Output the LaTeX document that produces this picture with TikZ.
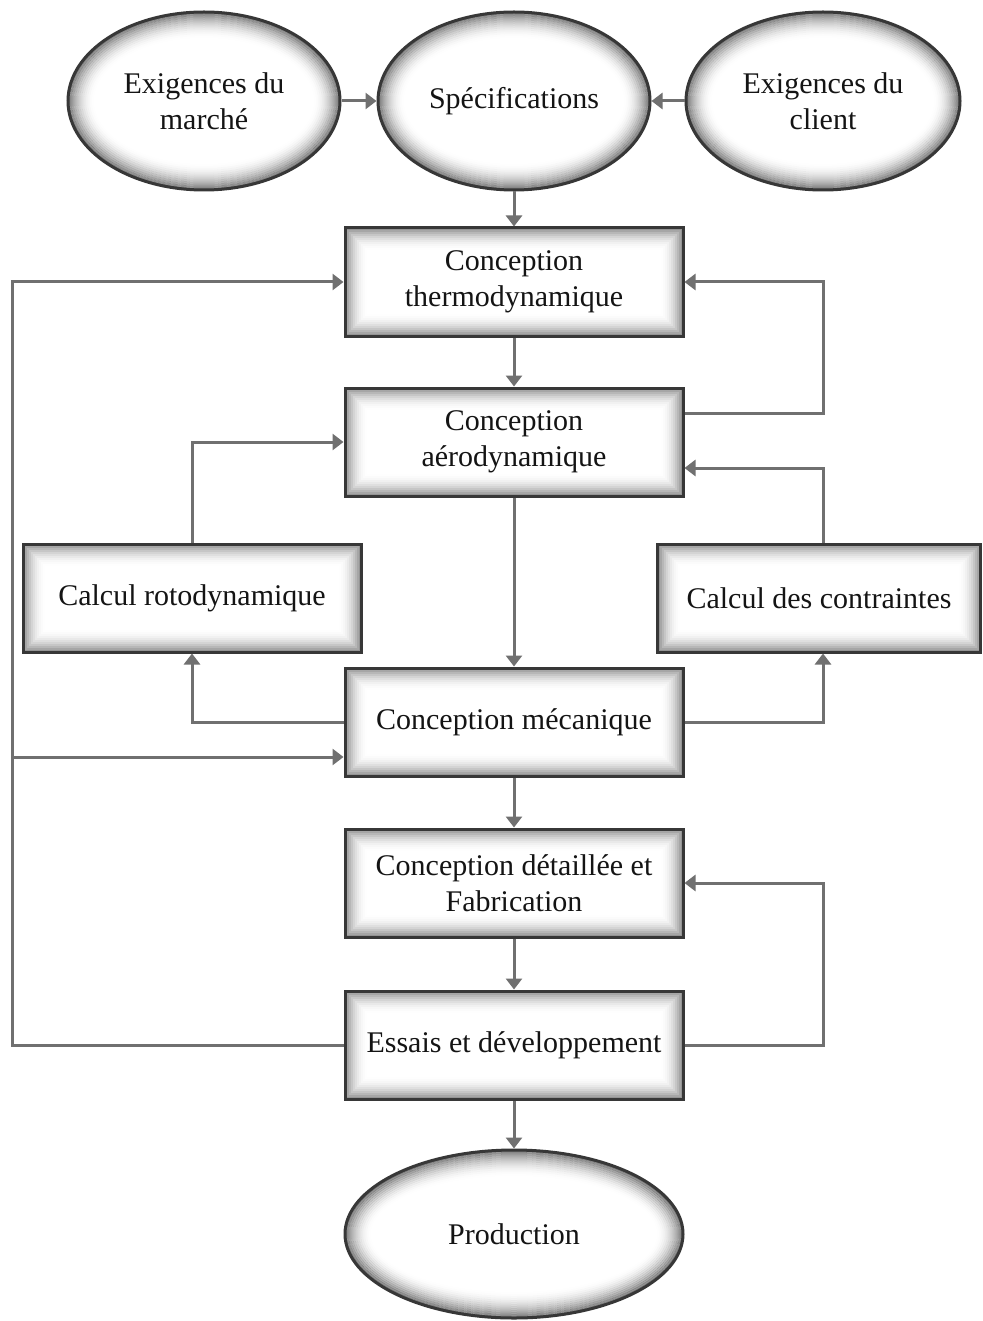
\documentclass[tikz,border=0pt]{standalone}
\usepackage{fontspec}
\setmainfont{Liberation Serif}
\usetikzlibrary{arrows.meta,shapes.geometric,calc}
\definecolor{linegray}{RGB}{112,112,112}
\definecolor{bordergray}{RGB}{55,55,55}
\definecolor{txt}{RGB}{20,20,20}
\tikzset{
  glowbox/.style={rectangle, draw=bordergray, line width=3pt, fill=white,
    minimum width=338pt, minimum height=108pt, align=center, inner sep=0pt,
    text=txt, font=\fontsize{30}{36}\selectfont,
    path picture={
      \foreach \i in {0,...,10}{
        \pgfmathsetmacro\op{0.42*(1-\i/11)^2}
        \pgfmathsetmacro\d{\i*2+1}
        \draw[black, line width=2pt, draw opacity=\op]
          ([shift={(\d pt,\d pt)}]path picture bounding box.south west) rectangle
          ([shift={(-\d pt,-\d pt)}]path picture bounding box.north east);
      }}},
  glowell/.style 2 args={ellipse, draw=bordergray, line width=3pt, fill=white,
    minimum width=#1pt, minimum height=#2pt, align=center, inner sep=0pt,
    text=txt, font=\fontsize{30}{36}\selectfont,
    path picture={
      \foreach \i in {0,...,12}{
        \pgfmathsetmacro\op{0.5*(1-\i/13)^2}
        \pgfmathsetmacro\rx{#1/2-\i*2-1}
        \pgfmathsetmacro\ry{#2/2-\i*2-1}
        \draw[black, line width=2pt, draw opacity=\op]
          (path picture bounding box.center) ellipse [x radius=\rx pt, y radius=\ry pt];
      }}},
  arr/.style={draw=linegray, line width=3pt, -{Triangle[length=11pt,width=16pt]}},
  plain/.style={draw=linegray, line width=3pt}
}
\begin{document}
\begin{tikzpicture}[x=1pt,y=-1pt]
\useasboundingbox (0,0) rectangle (982,1321);
\fill[white] (0,0) rectangle (982,1321);
% ellipses
\node[glowell={272}{178}] (market) at (204,101) {Exigences du\\marché};
\node[glowell={272}{178}] (spec) at (514,101) {Spécifications};
\node[glowell={274}{178}] (client) at (823,101) {Exigences du\\client};
% boxes
\node[glowbox] (thermo) at (514,282) {Conception\\thermodynamique};
\node[glowbox] (aero) at (514,442) {Conception\\aérodynamique};
\node[glowbox] (roto) at (192,598) {Calcul rotodynamique};
\node[glowbox, minimum width=323pt] (contr) at (819,598) {Calcul des contraintes};
\node[glowbox] (mech) at (514,722) {Conception mécanique};
\node[glowbox] (detail) at (514,883) {Conception détaillée et\\Fabrication};
\node[glowbox] (essais) at (514,1045) {Essais et développement};
\node[glowell={338}{168}] (prod) at (514,1234) {Production};
% helper coordinates
\coordinate (lx) at (12,0);
\coordinate (rx) at (823,0);
\coordinate (lb) at (12,757);
% connectors
\draw[arr] (market) -- (spec);
\draw[arr] (client) -- (spec);
\draw[arr] (spec) -- (thermo);
\draw[arr] (thermo) -- (aero);
\draw[arr] (aero) -- (mech);
\draw[arr] (mech) -- (detail);
\draw[arr] (detail) -- (essais);
\draw[arr] (essais) -- (prod);
\draw[arr] (essais.west) -- (lx |- essais.west) -- (lx |- thermo.west) -- (thermo.west);
\draw[arr] (lb) -- (mech.west |- lb);
\draw[arr] ([yshift=29pt]aero.east) -| (rx |- thermo.east) -- (thermo.east);
\draw[arr] (contr.north -| rx) |- ([yshift=-26pt]aero.east);
\draw[arr] (mech.east) -| (contr.south -| rx);
\draw[arr] (mech.west) -| (roto.south);
\draw[arr] (roto.north) |- (aero.west);
\draw[arr] (essais.east) -| (rx |- detail.east) -- (detail.east);
\end{tikzpicture}
\end{document}
